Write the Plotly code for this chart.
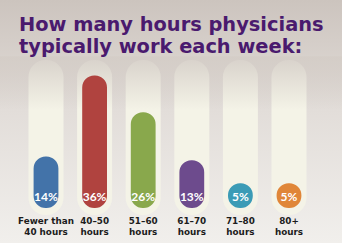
import plotly.graph_objects as go

# ---- data ----
categories = ["Fewer than<br>40 hours", "40–50<br>hours", "51–60<br>hours",
              "61–70<br>hours", "71–80<br>hours", "80+<br>hours"]
values = [14, 36, 26, 13, 5, 5]
labels = [f"{v}%" for v in values]
colors = ["#4373a9", "#b0433f", "#89a84c", "#6d4b8d", "#3b9bb6", "#e08638"]
title_lines = ["How many hours physicians", "typically work each week:"]

# ---- geometry (pixels -> data units) ----
W, H = 342, 243
PX_PER_UNIT = 3.68          # vertical pixels per percentage point
ZERO_PX = 208               # pixel row of 0%
CAT_PX = 48.6               # pixels between category centers
FIRST_PX = 46               # pixel column of first category center

yr = [(ZERO_PX - H) / PX_PER_UNIT, ZERO_PX / PX_PER_UNIT]
xr = [-FIRST_PX / CAT_PX, (W - FIRST_PX) / CAT_PX]
u = lambda px: px / PX_PER_UNIT

BAR_PX, TRK_PX = 24.8, 35
bar_w = BAR_PX / CAT_PX
trk_w = TRK_PX / CAT_PX
trk_bot = u(ZERO_PX - 215)
trk_top = u(ZERO_PX - 60)
x = list(range(len(categories)))
TRACK = "#f4f3e7"
EPS = 0.01   # non-zero base -> plotly rounds both ends of the bar (pill)

fig = go.Figure()

# background gradient (subplot 1, 0..1 box)
fig.add_trace(go.Scatter(x=[0, 1, 1, 0, 0], y=[0, 0, 1, 1, 0], mode="lines",
                         line=dict(width=0), fill="toself",
                         fillgradient=dict(type="vertical",
                                           colorscale=[[0, "#f1efec"], [0.55, "#e2ddd9"], [1, "#ccc4be"]]),
                         hoverinfo="skip", showlegend=False, xaxis="x", yaxis="y"))

# tracks (subplot 2): pill-shaped bars
fig.add_trace(go.Bar(x=x, y=[trk_top - trk_bot] * 6, base=trk_bot,
                     width=trk_w, marker=dict(color=TRACK, cornerradius="50%", line=dict(width=0)),
                     hoverinfo="skip", showlegend=False, xaxis="x2", yaxis="y2"))
# fade of track tops into the background
fade_lo = u(ZERO_PX - 110)
fig.add_trace(go.Scatter(x=[xr[0], xr[1], xr[1], xr[0], xr[0]],
                         y=[fade_lo, fade_lo, trk_top + 1, trk_top + 1, fade_lo],
                         mode="lines", line=dict(width=0), fill="toself",
                         fillgradient=dict(type="vertical",
                                           colorscale=[[0, "rgba(212,205,199,0)"], [1, "rgba(212,205,199,0.9)"]]),
                         hoverinfo="skip", showlegend=False, xaxis="x2", yaxis="y2"))

# coloured pills (subplot 3)
min_h = u(BAR_PX)
tops = [max(v, min_h) for v in values]
fig.add_trace(go.Bar(x=x, y=[t - EPS for t in tops], base=EPS, width=bar_w,
                     marker=dict(color=colors, cornerradius="50%", line=dict(width=0)),
                     hoverinfo="skip", showlegend=False, xaxis="x3", yaxis="y3"))
fig.add_trace(go.Scatter(x=x, y=[u(ZERO_PX - 197.5)] * 6, mode="text", text=labels,
                         textfont=dict(family="Lato", size=12, color="white", weight="bold"),
                         hoverinfo="skip", showlegend=False, xaxis="x3", yaxis="y3"))
fig.add_trace(go.Scatter(x=x, y=[u(ZERO_PX - 227.5)] * 6, mode="text", text=categories,
                         textfont=dict(family="DejaVu Sans", size=8.8, color="#1c1c1c", weight="bold"),
                         hoverinfo="skip", showlegend=False, xaxis="x3", yaxis="y3"))

ax = dict(showgrid=False, zeroline=False, showticklabels=False, ticks="", showline=False, fixedrange=True)
title_font = dict(family="DejaVu Sans", size=19.4, color="#4a1a6e", weight="bold")
fig.update_layout(
    width=W, height=H, margin=dict(l=0, r=0, t=0, b=0),
    paper_bgcolor="#e2ddd9", plot_bgcolor="rgba(0,0,0,0)",
    barmode="overlay",
    xaxis=dict(ax, range=[0, 1], domain=[0, 1]),
    yaxis=dict(ax, range=[0, 1], domain=[0, 1]),
    xaxis2=dict(ax, range=xr, domain=[0, 1], anchor="y2"),
    yaxis2=dict(ax, range=yr, domain=[0, 1], anchor="x2"),
    xaxis3=dict(ax, range=xr, domain=[0, 1], anchor="y3"),
    yaxis3=dict(ax, range=yr, domain=[0, 1], anchor="x3"),
    annotations=[dict(text=t, xref="paper", yref="paper", x=17 / W, y=1 - (11 + 22 * i) / H,
                      xanchor="left", yanchor="top", align="left", showarrow=False,
                      font=title_font)
                 for i, t in enumerate(title_lines)],
)

fig.write_html("out.html")
